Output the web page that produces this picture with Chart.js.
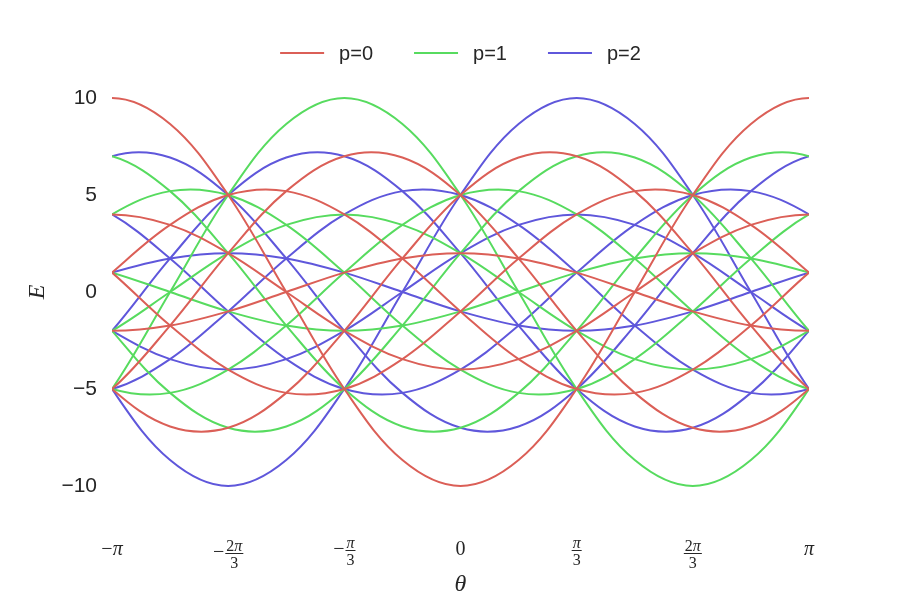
<!DOCTYPE html>
<html>
<head>
<meta charset="utf-8">
<title>Bands E(θ)</title>
<script src="https://cdn.jsdelivr.net/npm/chart.js@4.4.1/dist/chart.umd.min.js"></script>
<style>
  html, body { margin: 0; padding: 0; background: #fff; }
</style>
</head>
<body>
<canvas id="bands" width="900" height="600"></canvas>
<script>
// theta samples, -7pi/6 .. 7pi/6 in steps of pi/6 (outer two are clipped off)
const theta = [-3.6652, -3.1416, -2.6180, -2.0944, -1.5708, -1.0472, -0.5236, 0,
               0.5236, 1.0472, 1.5708, 2.0944, 2.6180, 3.1416, 3.6652];

// p=0 curves
const n500 = [8.66, 10, 8.66, 5, 0, -5, -8.66, -10, -8.66, -5, 0, 5, 8.66, 10, 8.66];
const n311 = [3.46, 4, 3.46, 2, 0, -2, -3.46, -4, -3.46, -2, 0, 2, 3.46, 4, 3.46];
const n230 = [3.46, 1, -1.73, -4, -5.2, -5, -3.46, -1, 1.73, 4, 5.2, 5, 3.46, 1, -1.73];
const n203 = [-1.73, 1, 3.46, 5, 5.2, 4, 1.73, -1, -3.46, -5, -5.2, -4, -1.73, 1, 3.46];
const n122 = [-1.73, -2, -1.73, -1, 0, 1, 1.73, 2, 1.73, 1, 0, -1, -1.73, -2, -1.73];
const n041 = [-1.73, -5, -6.93, -7, -5.2, -2, 1.73, 5, 6.93, 7, 5.2, 2, -1.73, -5, -6.93];
const n014 = [-6.93, -5, -1.73, 2, 5.2, 7, 6.93, 5, 1.73, -2, -5.2, -7, -6.93, -5, -1.73];

// p=1 curves
const n410 = [6.93, 7, 5.2, 2, -1.73, -5, -6.93, -7, -5.2, -2, 1.73, 5, 6.93, 7, 5.2];
const n302 = [1.73, 4, 5.2, 5, 3.46, 1, -1.73, -4, -5.2, -5, -3.46, -1, 1.73, 4, 5.2];
const n221 = [1.73, 1, 0, -1, -1.73, -2, -1.73, -1, 0, 1, 1.73, 2, 1.73, 1, 0];
const n140 = [1.73, -2, -5.2, -7, -6.93, -5, -1.73, 2, 5.2, 7, 6.93, 5, 1.73, -2, -5.2];
const n113 = [-3.46, -2, 0, 2, 3.46, 4, 3.46, 2, 0, -2, -3.46, -4, -3.46, -2, 0];
const n032 = [-3.46, -5, -5.2, -4, -1.73, 1, 3.46, 5, 5.2, 4, 1.73, -1, -3.46, -5, -5.2];
const n005 = [-8.66, -5, 0, 5, 8.66, 10, 8.66, 5, 0, -5, -8.66, -10, -8.66, -5, 0];

// p=2 curves
const n401 = [5.2, 7, 6.93, 5, 1.73, -2, -5.2, -7, -6.93, -5, -1.73, 2, 5.2, 7, 6.93];
const n320 = [5.2, 4, 1.73, -1, -3.46, -5, -5.2, -4, -1.73, 1, 3.46, 5, 5.2, 4, 1.73];
const n212 = [0, 1, 1.73, 2, 1.73, 1, 0, -1, -1.73, -2, -1.73, -1, 0, 1, 1.73];
const n131 = [0, -2, -3.46, -4, -3.46, -2, 0, 2, 3.46, 4, 3.46, 2, 0, -2, -3.46];
const n104 = [-5.2, -2, 1.73, 5, 6.93, 7, 5.2, 2, -1.73, -5, -6.93, -7, -5.2, -2, 1.73];
const n050 = [0, -5, -8.66, -10, -8.66, -5, 0, 5, 8.66, 10, 8.66, 5, 0, -5, -8.66];
const n023 = [-5.2, -5, -3.46, -1, 1.73, 4, 5.2, 5, 3.46, 1, -1.73, -4, -5.2, -5, -3.46];

const seriesLabels = ["p=0", "p=1", "p=2"];
const seriesColors = ["#db5f57", "#57db5f", "#5f57db"];
const seriesCurves = [
    [n500, n311, n230, n203, n122, n041, n014],
    [n410, n302, n221, n140, n113, n032, n005],
    [n401, n320, n212, n131, n104, n050, n023],
];

const yTicks = [-10, -5, 0, 5, 10];
const xTickValues = [-3.1416, -2.0944, -1.0472, 0, 1.0472, 2.0944, 3.1416];
const xTickSigns = ["−", "−", "−", "", "", "", ""];
const xTickNums = ["π", "2π", "π", "0", "π", "2π", "π"];
const xTickDens = ["", "3", "3", "", "3", "3", ""];

const textColor = "#262626";
const serif = '"Liberation Serif", "DejaVu Serif", serif';
const sans = '"Liberation Sans", Arial, sans-serif';

let datasets = [];
seriesCurves.forEach((curves, p) => {
    curves.forEach((curve) => {
        datasets.push({
            label: seriesLabels[p],
            data: curve.map((e, i) => ({ x: theta[i], y: e })),
            borderColor: seriesColors[p],
            borderWidth: 2,
            pointRadius: 0,
            tension: 0.36,
            fill: false,
        });
    });
});

// math text: pi in italic, everything else upright
function mathFont(ch, size) {
    return (ch === "π" ? "italic " : "") + size + "px " + serif;
}

function mathMeasure(ctx, str, size) {
    let width = 0, ascent = 0;
    for (const ch of str) {
        ctx.font = mathFont(ch, size);
        let m = ctx.measureText(ch);
        width += m.width;
        ascent = Math.max(ascent, m.actualBoundingBoxAscent);
    }
    return { width, ascent };
}

function mathDraw(ctx, str, x, y, size) {
    ctx.textAlign = "left";
    for (const ch of str) {
        ctx.font = mathFont(ch, size);
        ctx.fillText(ch, x, y);
        x += ctx.measureText(ch).width;
    }
}

function drawXTick(ctx, cx, sign, num, den) {
    const big = 20, small = 16;
    const top = 540;
    ctx.textBaseline = "alphabetic";
    if (!den) {
        let w = mathMeasure(ctx, sign + num, big).width;
        mathDraw(ctx, sign + num, cx - w / 2, 555, big);
        return;
    }
    let signWidth = sign ? mathMeasure(ctx, sign, big).width + 1 : 0;
    let numBox = mathMeasure(ctx, num, small);
    let denBox = mathMeasure(ctx, den, small);
    let barWidth = Math.max(numBox.width, denBox.width) + 2;
    let left = cx - (signWidth + barWidth) / 2;
    let numBase = top + numBox.ascent;
    let barY = numBase + 2;
    let denBase = barY + 3.5 + denBox.ascent;
    let fx = left + signWidth + barWidth / 2;

    mathDraw(ctx, num, fx - numBox.width / 2, numBase, small);
    mathDraw(ctx, den, fx - denBox.width / 2, denBase, small);
    ctx.fillRect(left + signWidth, barY, barWidth, 1);

    if (sign) {
        ctx.textBaseline = "middle";
        mathDraw(ctx, sign, left, barY, big);
        ctx.textBaseline = "alphabetic";
    }
}

const overlayPlugin = {
    id: "overlay",
    afterDraw(chart) {
        const ctx = chart.ctx;
        const area = chart.chartArea;
        const xScale = chart.scales.x;
        ctx.save();
        ctx.fillStyle = textColor;

        // legend, centred over the plot area
        ctx.font = "20px " + sans;
        const lineLen = 44, gap = 15, spacing = 41;
        let widths = seriesLabels.map((t) => ctx.measureText(t).width);
        let total = widths.reduce((a, w) => a + lineLen + gap + w, 0) + spacing * (seriesLabels.length - 1);
        let lx = (area.left + area.right) / 2 - total / 2;
        const ly = 53;
        seriesLabels.forEach((t, i) => {
            ctx.strokeStyle = seriesColors[i];
            ctx.lineWidth = 2;
            ctx.beginPath();
            ctx.moveTo(lx, ly);
            ctx.lineTo(lx + lineLen, ly);
            ctx.stroke();
            ctx.textAlign = "left";
            ctx.textBaseline = "middle";
            ctx.fillText(t, lx + lineLen + gap, ly + 1);
            lx += lineLen + gap + widths[i] + spacing;
        });

        // x tick labels
        xTickValues.forEach((v, i) => {
            drawXTick(ctx, xScale.getPixelForValue(v), xTickSigns[i], xTickNums[i], xTickDens[i]);
        });

        // axis titles
        ctx.font = "italic 24px " + serif;
        ctx.textAlign = "center";
        ctx.textBaseline = "middle";
        ctx.fillText("θ", (area.left + area.right) / 2, 585);
        ctx.save();
        ctx.translate(38, (area.top + area.bottom) / 2);
        ctx.rotate(-Math.PI / 2);
        ctx.fillText("E", 0, 0);
        ctx.restore();

        ctx.restore();
    },
};

new Chart(document.getElementById("bands").getContext("2d"), {
    type: "line",
    data: { datasets: datasets },
    options: {
        responsive: false,
        animation: false,
        devicePixelRatio: 1,
        layout: { padding: { left: 0, right: 91, top: 78.6, bottom: 94.6 } },
        plugins: {
            legend: { display: false },
            tooltip: { enabled: false },
        },
        scales: {
            x: {
                type: "linear",
                min: -3.1416,
                max: 3.1416,
                display: false,
            },
            y: {
                type: "linear",
                min: -11,
                max: 11,
                grid: { display: false, drawTicks: false },
                border: { display: false },
                afterBuildTicks: (scale) => {
                    scale.ticks = yTicks.map((v) => ({ value: v }));
                },
                afterFit: (scale) => {
                    scale.width = 112;
                },
                ticks: {
                    padding: 15,
                    color: textColor,
                    font: { family: sans, size: 21 },
                    callback: (v) => String(v).replace("-", "−"),
                },
            },
        },
    },
    plugins: [overlayPlugin],
});
</script>
</body>
</html>
